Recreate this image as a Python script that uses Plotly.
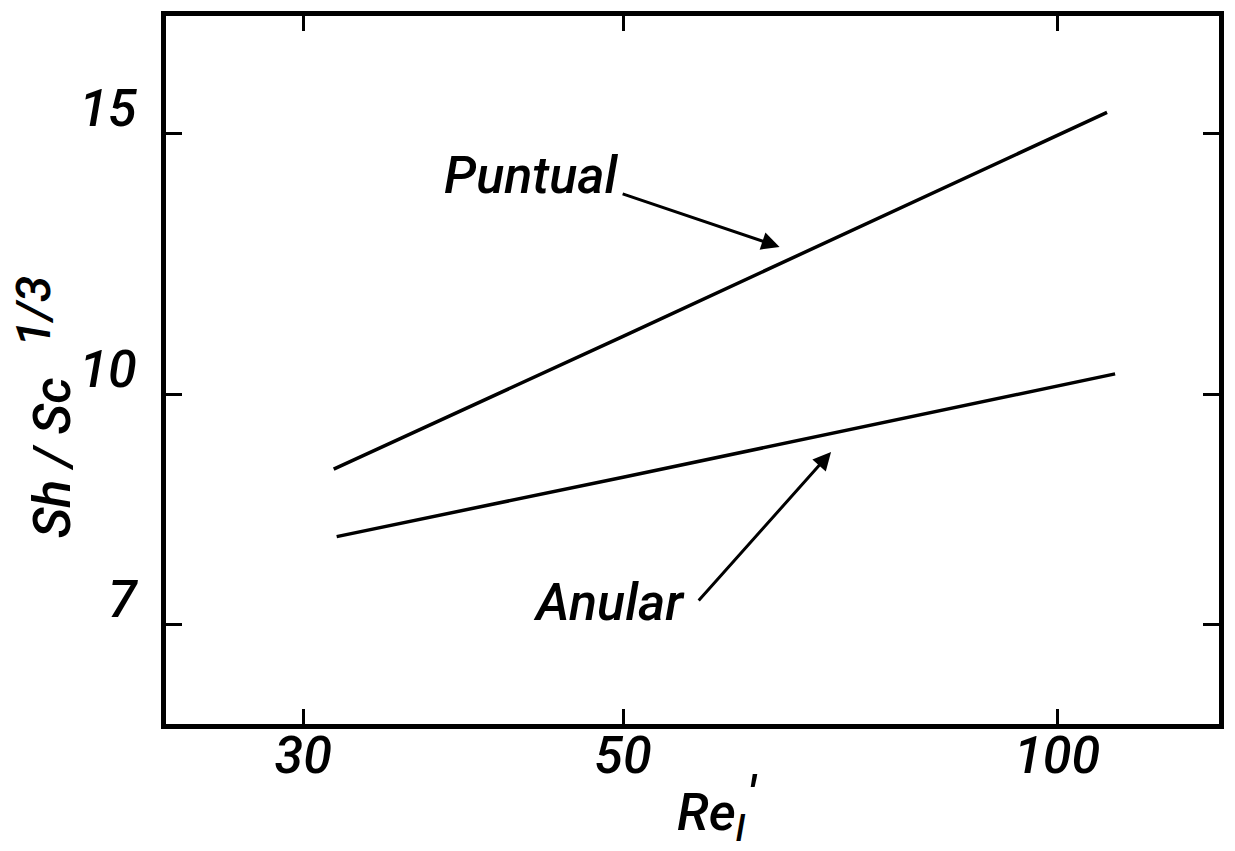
import numpy as np
import plotly.graph_objects as go

# Correlation lines: Sh/Sc^(1/3) against Re'_l (log-log)
re_puntual = [31.5, 50.0, 108.3]
sh_puntual = [8.91, 10.95, 15.50]

re_anular = [31.65, 50.0, 109.7]
sh_anular = [8.025, 8.80, 10.33]

x_ticks = [30, 50, 100]
x_tick_labels = ["30", "50", "100"]
y_ticks = [7, 10, 15]
y_tick_labels = ["7", "10", "15"]

# label arrows: (tail, head) in data units
puntual_arrow = {"tail": (49.85, 13.67), "head": (64.2, 12.58)}
anular_arrow = {"tail": (56.3, 7.25), "head": (69.7, 9.15)}

FONT = "Roboto"
INK = "black"
WEIGHT = 500

fig = go.Figure()
for xs, ys in [(re_puntual, sh_puntual), (re_anular, sh_anular)]:
    fig.add_trace(go.Scatter(x=xs, y=ys, mode="lines",
                             line=dict(color=INK, width=3.5),
                             showlegend=False, hoverinfo="skip"))

axis_common = dict(
    type="log", showgrid=False, zeroline=False,
    showline=True, linecolor=INK, linewidth=5, mirror="ticks",
    ticks="inside", tickwidth=3, tickcolor=INK,
    tickfont=dict(family=FONT, size=52, color=INK, style="italic", weight=WEIGHT),
)

fig.update_xaxes(**axis_common, range=[np.log10(24.1), np.log10(129.5)],
                 tickvals=x_ticks, ticktext=x_tick_labels, ticklen=15,
                 ticklabelstandoff=-18)
fig.update_yaxes(**axis_common, range=[np.log10(6), np.log10(18)],
                 tickvals=y_ticks, ticktext=y_tick_labels, ticklen=16,
                 ticklabelstandoff=14, ticklabelshift=-26)

label_font = dict(family=FONT, size=52, color=INK, style="italic", weight=WEIGHT)

annotations = []
# curve labels
annotations.append(dict(x=np.log10(43.15), y=np.log10(14.06), xref="x", yref="y",
                        text="Puntual", showarrow=False, font=label_font))
annotations.append(dict(x=np.log10(48.9), y=np.log10(7.24), xref="x", yref="y",
                        text="Anular", showarrow=False, font=label_font))
# arrows from labels to curves
for arr in (puntual_arrow, anular_arrow):
    (tx, ty), (hx, hy) = arr["tail"], arr["head"]
    annotations.append(dict(x=np.log10(hx), y=np.log10(hy), xref="x", yref="y",
                            ax=np.log10(tx), ay=np.log10(ty), axref="x", ayref="y",
                            text="", showarrow=True, arrowhead=2, arrowsize=1.2,
                            arrowwidth=3, arrowcolor=INK, standoff=0, startstandoff=0))

# axis titles (placed in pixels, converted to paper fractions below)
annotations.append(dict(x=714, y=851 - 816, text="Re<sub>l</sub>", size=52))
annotations.append(dict(x=755, y=851 - 796, text="'", size=52))
annotations.append(dict(x=52, y=851 - 457, text="Sh / Sc", textangle=-90, size=52))
annotations.append(dict(x=33, y=851 - 310, text="1/3", textangle=-90, size=48))

W, H = 1235, 851
ML, MR, MT, MB = 166, 11, 14, 127
pw, ph = W - ML - MR, H - MT - MB
for a in annotations[-4:]:
    a["x"] = (a["x"] - ML) / pw
    a["y"] = (a["y"] - MB) / ph
    a["xref"] = "paper"
    a["yref"] = "paper"
    a["showarrow"] = False
    a["xanchor"] = "center"
    a["yanchor"] = "middle"
    a["font"] = dict(label_font, size=a.pop("size"))

fig.update_layout(
    width=W, height=H,
    margin=dict(l=ML, r=MR, t=MT, b=MB),
    paper_bgcolor="white", plot_bgcolor="white",
    annotations=annotations,
)

fig.write_html("out.html")
